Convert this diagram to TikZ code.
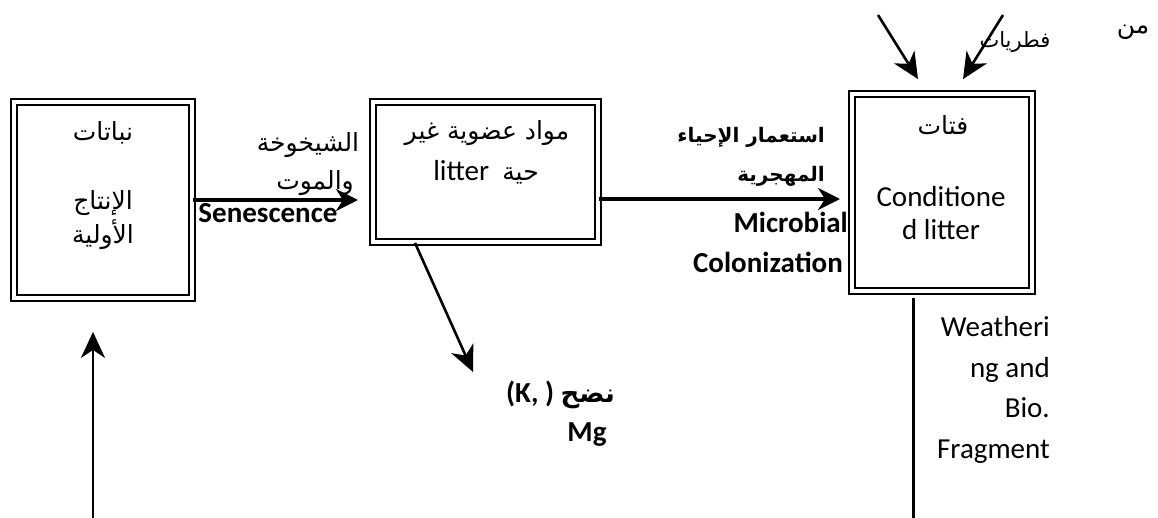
\documentclass[tikz,border=0pt]{standalone}
\usepackage{fontspec}
\setmainfont{Carlito}
\newfontfamily\arabicfont[Script=Arabic]{DejaVu Sans}
\TeXXeTstate=1
\usetikzlibrary{arrows.meta,positioning}

% Arabic text, right to left
\newcommand{\artx}[1]{{\arabicfont\fontsize{25}{30}\selectfont\beginR #1\endR}}
\newcommand{\artxb}[1]{{\arabicfont\bfseries\fontsize{20}{25}\selectfont\beginR #1\endR}}

\tikzset{
  stagebox/.style = {draw, line width=2.2pt, double, double distance=4pt, inner sep=0pt},
  flow/.style = {line width=4pt, -{Stealth[length=22pt,width=22pt,inset=7pt]}},
  thinflow/.style = {line width=2.6pt, -{Stealth[length=26pt,width=24pt,inset=8pt]}},
  lbl/.style = {inner sep=0pt, font=\fontsize{29}{34}\selectfont},
  lblb/.style = {inner sep=0pt, font=\bfseries\fontsize{29}{34}\selectfont},
}

\begin{document}
\begin{tikzpicture}[x=1pt, y=-1pt]
\useasboundingbox (0,0) rectangle (1158,518);
\clip (0,0) rectangle (1158,518);

% the three stages
\node[stagebox, minimum width=177.6pt, minimum height=195.6pt] (plants) at (103,200) {};
\node[stagebox, minimum width=224.6pt, minimum height=139.6pt] (litter) at (485.5,172) {};
\node[stagebox, minimum width=179.6pt, minimum height=196.6pt] (cond) at (942,192.5) {};

% texts in the boxes
\node[lbl] (plantsA) at (103,133) {\artx{نباتات}};
\node[lbl] (plantsB) at (103,203) {\artx{الإنتاج}};
\node[lbl] (plantsC) at (103,235) {\artx{الأولية}};

\node[lbl] (litterA) at (487,133) {\artx{مواد عضوية غير}};
\node[lbl] (litterB) at (486,172) {litter\ \ \artx{حية}};

\node[lbl] (condA) at (943,125) {\artx{فتات}};
\node[lbl] (condB) at (941,197) {Conditione};
\node[lbl] (condC) at (941,230) {d litter};

% senescence
\coordinate (senesEnd) at (358,200);
\draw[flow] (plants.east |- senesEnd) -- (senesEnd);
\node[lbl] (senesA) at (308,145) {\artx{الشيخوخة}};
\node[lbl, anchor=east] (senesB) at (354,183) {\artx{والموت}};
\node[lblb] (senesC) at (268,213) {Senescence};

% microbial colonization
\coordinate (colonEnd) at (840,199);
\draw[flow] (litter.east |- colonEnd) -- (colonEnd);
\node[lbl, anchor=east] (colonA) at (825,137) {\artxb{استعمار الإحياء}};
\node[lbl, anchor=east] (colonB) at (825,176) {\artxb{المهجرية}};
\node[lblb, anchor=east] (colonC) at (848,222) {Microbial};
\node[lblb, anchor=east] (colonD) at (843,262) {Colonization};

% leaching
\coordinate (leachEnd) at (473,372);
\draw[thinflow] ([xshift=-70.5pt]litter.south) -- (leachEnd);
\node[lblb, anchor=east] (leachA) at (615,395)
  {(K, )\ {\arabicfont\bfseries\fontsize{26}{30}\selectfont\beginR نضح\endR}};
\node[lblb] (leachB) at (587,435) {Mg};

% fungi and others
\coordinate (fromA) at (878,15);
\coordinate (fromB) at (1003,15);
\draw[thinflow] (fromA) -- ([xshift=-24pt,yshift=14pt]cond.north);
\draw[thinflow] (fromB) -- ([xshift=21pt,yshift=14pt]cond.north);
\node[lbl] (fungi) at (1015,42) {{\arabicfont\fontsize{21}{25}\selectfont\beginR فطريات\endR}};
\node[lbl] (fromTxt) at (1133,32) {\artx{من}};

% weathering
\coordinate (fragEnd) at (913,530);
\draw[line width=3pt] ([xshift=-29pt,yshift=-6pt]cond.south) -- (fragEnd);
\node[lbl, anchor=north east, align=right, font=\fontsize{29}{40.7}\selectfont]
  (frag) at (1050,316) {Weatheri\\ng and\\Bio.\\Fragment};

% back to the plants
\coordinate (cycleStart) at (93,530);
\draw[thinflow] (cycleStart) -- ([xshift=-10pt,yshift=-33pt]plants.south);
\end{tikzpicture}
\end{document}
